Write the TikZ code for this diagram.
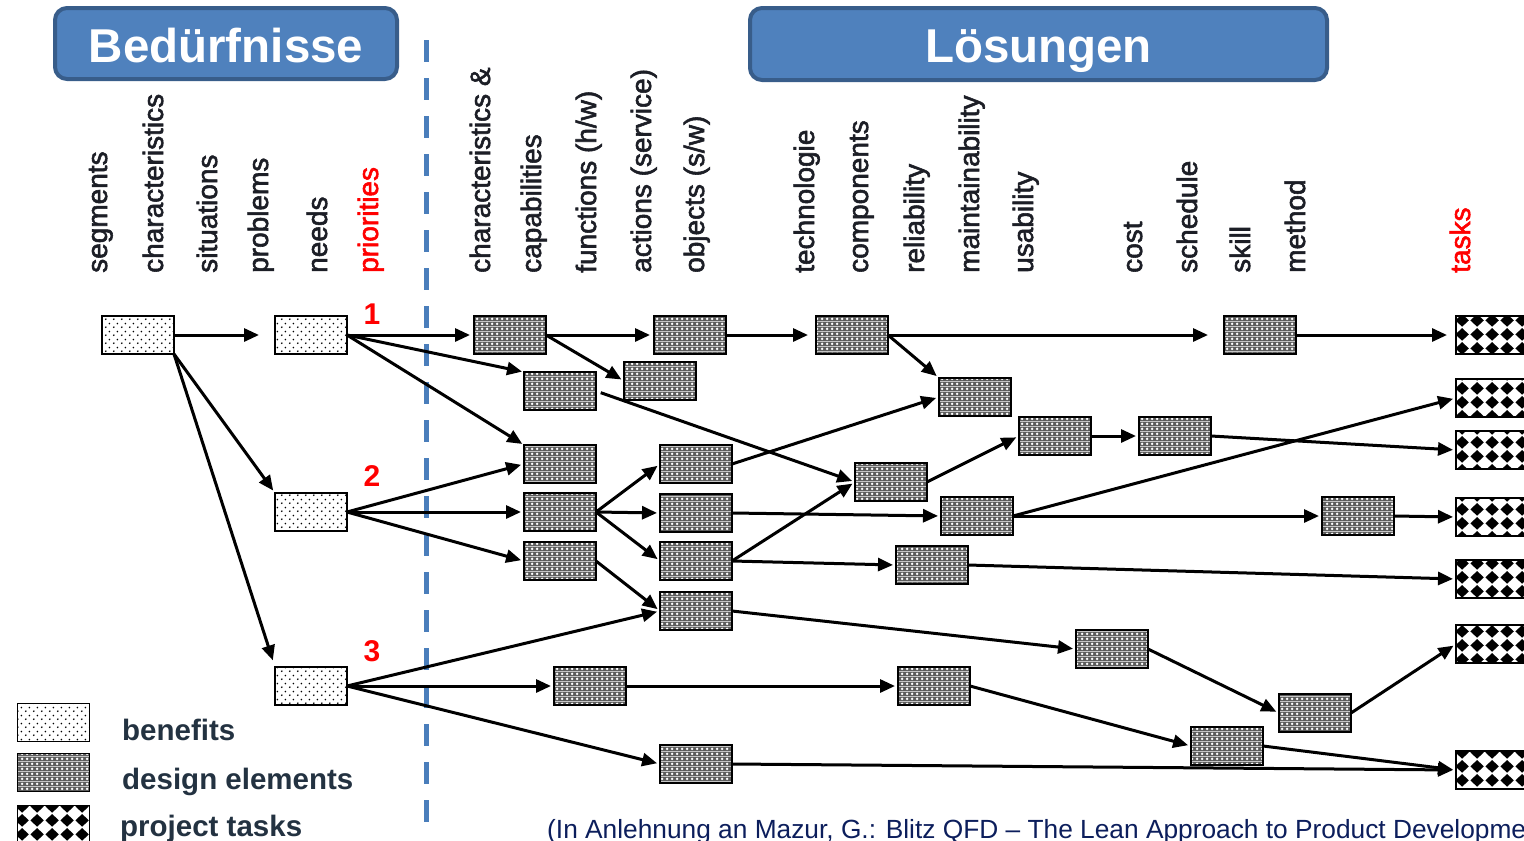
\documentclass[tikz,border=0pt]{standalone}
\usepackage{fontspec}
\setmainfont{Liberation Sans}
\newfontfamily\lblfont{Liberation Sans}[FakeBold=2]
\usetikzlibrary{arrows.meta,patterns.meta}

\definecolor{hdrfill}{RGB}{79,129,189}
\definecolor{hdrline}{RGB}{56,93,138}
\definecolor{divider}{RGB}{74,126,187}
\definecolor{lbl}{RGB}{28,30,38}
\definecolor{legendtxt}{RGB}{35,50,65}
\definecolor{srcnavy}{RGB}{12,30,92}
\definecolor{prio}{RGB}{255,0,0}

% fill patterns for the three element kinds
\tikzdeclarepattern{
  name=benefitdots, type=colored,
  bounding box={(0pt,0pt) and (8pt,8pt)},
  tile size={(8pt,8pt)},
  code={
    \fill[black] (2pt,2pt) circle (1pt);
    \fill[black] (6pt,6pt) circle (1pt);
  }
}
\tikzdeclarepattern{
  name=designx, type=colored,
  bounding box={(0pt,0pt) and (5pt,5pt)},
  tile size={(5pt,5pt)},
  code={
    \fill[black!64] (0pt,0pt) rectangle (5pt,5pt);
    \fill[white] (2.5pt,0.9pt) -- (4.1pt,2.5pt) -- (2.5pt,4.1pt) -- (0.9pt,2.5pt) -- cycle;
  }
}
\tikzdeclarepattern{
  name=taskdiamond, type=colored,
  bounding box={(0pt,0pt) and (15pt,13.5pt)},
  tile size={(15pt,13.5pt)},
  code={
    \fill[black] (7.5pt,0.3pt) -- (14.6pt,6.75pt) -- (7.5pt,13.2pt) -- (0.4pt,6.75pt) -- cycle;
  }
}

\tikzset{
  box/.style={draw=black, line width=1.6pt, minimum width=72pt, minimum height=38pt,
    inner sep=0pt, outer sep=0pt},
  benefit/.style={box, preaction={fill=white}, pattern=benefitdots},
  design/.style={box, pattern=designx},
  task/.style={box, preaction={fill=white}, pattern=taskdiamond},
  flow/.style={line width=3pt, -{Triangle[length=15pt,width=13pt]}, shorten >=3pt},
  col/.style={rotate=90, anchor=base west, inner sep=0pt, text=lbl,
    font=\lblfont\fontsize{28}{28}\selectfont},
  hdrbox/.style={draw=hdrline, fill=hdrfill, line width=4pt, rounded corners=12pt,
    inner sep=0pt},
  hdrtext/.style={text=white, inner sep=0pt, font=\bfseries\fontsize{47.5}{47.5}\selectfont},
  prionum/.style={text=prio, inner sep=0pt, font=\bfseries\fontsize{30}{30}\selectfont},
  legendtext/.style={anchor=base west, inner sep=0pt, text=legendtxt,
    font=\bfseries\fontsize{29.5}{29.5}\selectfont},
}

\begin{document}
\begin{tikzpicture}[x=1pt,y=-1pt]
\useasboundingbox (0,0) rectangle (1524,841);
\clip (0,0) rectangle (1524,841);
\fill[white] (0,0) rectangle (1524,841);

% headers
\node[hdrbox, minimum width=342pt, minimum height=71pt] (hdrNeeds) at (226,43.5) {};
\node[hdrtext, anchor=base] (ttlNeeds) at (226,62) {Bedürfnisse};
\node[hdrbox, minimum width=577pt, minimum height=72pt] (hdrSol) at (1038.5,44) {};
\node[hdrtext, anchor=base] (ttlSol) at (1038.5,62) {Lösungen};

% divider between needs and solutions
\draw[divider, line width=5pt, dash pattern=on 22pt off 16pt] (426,40) -- (426,825);

% column headings
\node[col] (c1) at (107,273) {segments};
\node[col] (c2) at (163,273) {characteristics};
\node[col] (c3) at (217,273) {situations};
\node[col] (c4) at (268,273) {problems};
\node[col] (c5) at (327,273) {needs};
\node[col, text=prio] (c6) at (378,273) {priorities};
\node[col] (c7) at (490,273) {characteristics \&};
\node[col] (c8) at (541,273) {capabilities};
\node[col] (c9) at (596,273) {functions (h/w)};
\node[col] (c10) at (651,273) {actions (service)};
\node[col] (c11) at (704,273) {objects (s/w)};
\node[col] (c12) at (814,273) {technologie};
\node[col] (c13) at (868,273) {components};
\node[col] (c14) at (924,273) {reliability};
\node[col] (c15) at (979,273) {maintainability};
\node[col] (c16) at (1033,273) {usability};
\node[col] (c17) at (1142,273) {cost};
\node[col] (c18) at (1197,273) {schedule};
\node[col] (c19) at (1250,273) {skill};
\node[col] (c20) at (1305,273) {method};
\node[col, text=prio] (c21) at (1470,273) {tasks};

% priority numbers
\node[prionum] (p1) at (372,314) {1};
\node[prionum] (p2) at (372,476) {2};
\node[prionum] (p3) at (372,651) {3};

% benefits
\node[benefit] (S)  at (138,335) {};
\node[benefit] (B1) at (311,335) {};
\node[benefit] (B2) at (311,512) {};
\node[benefit] (B3) at (311,686) {};

% design elements
\node[design] (D1)  at (510,335) {};
\node[design] (D2)  at (560,391) {};
\node[design] (D3)  at (690,335) {};
\node[design] (D4)  at (660,381) {};
\node[design] (D5)  at (560,464) {};
\node[design] (D6)  at (560,512) {};
\node[design] (D7)  at (560,561) {};
\node[design] (D8)  at (696,464) {};
\node[design] (D9)  at (696,513) {};
\node[design] (D10) at (696,561) {};
\node[design] (D11) at (696,611) {};
\node[design] (D12) at (852,335) {};
\node[design] (D13) at (975,397) {};
\node[design] (D14) at (891,482) {};
\node[design] (D15) at (1055,436) {};
\node[design] (D16) at (977,516) {};
\node[design] (D17) at (932,565) {};
\node[design] (D18) at (1175,436) {};
\node[design] (D19) at (1260,335) {};
\node[design] (D20) at (1358,516) {};
\node[design] (D21) at (1112,649) {};
\node[design] (D22) at (1315,713) {};
\node[design] (D23) at (1227,746) {};
\node[design] (D24) at (934,686) {};
\node[design] (D25) at (590,686) {};
\node[design] (D26) at (696,764) {};

% project tasks
\node[task] (T1) at (1492,335) {};
\node[task] (T2) at (1492,398) {};
\node[task] (T3) at (1492,450) {};
\node[task] (T4) at (1492,517) {};
\node[task] (T5) at (1492,579) {};
\node[task] (T6) at (1492,644) {};
\node[task] (T7) at (1492,770) {};

% connections
\draw[flow, shorten >=16pt] (S.east) -- (B1.west);
\draw[flow] (S.south east) -- (B2.north west);
\draw[flow, shorten >=7pt] (S.south east) -- (B3.north west);

\draw[flow, shorten >=4pt] (B1.east) -- (D1.west);
\draw[flow, shorten >=2pt] (B1.east) -- (D2.north west);
\draw[flow, shorten >=2pt] (B1.east) -- (D5.north west);
\draw[flow, shorten >=4pt] (D1.east) -- (D3.west);
\draw[flow] (D1.east) -- (D4.west);
\draw[flow, shorten <=5pt] (D2.east) -- (D14.west);
\draw[flow, shorten >=8pt] (D3.east) -- (D12.west);
\draw[flow, shorten >=16pt] (D12.east) -- (D19.west);
\draw[flow] (D12.east) -- (D13.north west);
\draw[flow, shorten >=9pt] (D19.east) -- (T1.west);

\draw[flow] (B2.east) -- (D5.west);
\draw[flow] (B2.east) -- (D6.west);
\draw[flow] (B2.east) -- (D7.west);
\draw[flow] (D6.east) -- (D8.west);
\draw[flow] (D6.east) -- (D9.west);
\draw[flow] (D6.east) -- (D10.west);
\draw[flow] (D7.east) -- (D11.west);

\draw[flow] (B3.east) -- (D11.west);
\draw[flow] (B3.east) -- (D25.west);
\draw[flow] (B3.east) -- (D26.west);

\draw[flow] (D8.east) -- (D13.west);
\draw[flow] (D9.east) -- (D16.west);
\draw[flow] (D10.east) -- (D14.west);
\draw[flow] (D10.east) -- (D17.west);
\draw[flow] (D11.east) -- (D21.west);
\draw[flow] (D14.east) -- (D15.west);
\draw[flow] (D15.east) -- (D18.west);
\draw[flow] (D18.east) -- (T3.west);
\draw[flow] (D16.east) -- (T2.west);
\draw[flow] (D16.east) -- (D20.west);
\draw[flow] (D20.east) -- (T4.west);
\draw[flow] (D17.east) -- (T5.west);
\draw[flow] (D21.east) -- (D22.west);
\draw[flow] (D22.east) -- (T6.west);
\draw[flow] (D25.east) -- (D24.west);
\draw[flow] (D24.east) -- (D23.west);
\draw[flow] (D23.east) -- (T7.west);
\draw[flow] (D26.east) -- (T7.west);

% legend
\node[benefit] (legB) at (53.5,722.5) {};
\node[design]  (legD) at (53.5,772.5) {};
\node[task]    (legT) at (53.5,824.5) {};
\node[legendtext] (legBt) at (122,740) {benefits};
\node[legendtext] (legDt) at (122,789) {design elements};
\node[legendtext] (legTt) at (120,836) {project tasks};

% source
\node[anchor=base west, inner sep=0pt, text=srcnavy, font=\fontsize{26.3}{26.3}\selectfont]
  (src) at (547,838) {(In Anlehnung an Mazur, G.: Blitz QFD – The Lean Approach to Product Development)};
\end{tikzpicture}
\end{document}
